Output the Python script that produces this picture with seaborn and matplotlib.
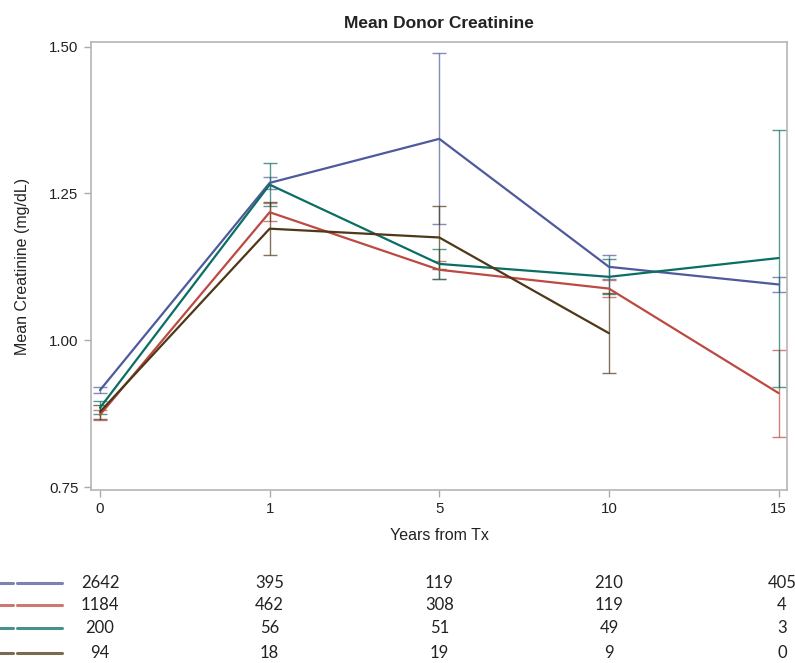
import numpy as np
import pandas as pd
import seaborn as sns
import matplotlib.pyplot as plt
from matplotlib.lines import Line2D
import matplotlib.transforms as mtransforms

# --- dados ---
anos = ['0', '1', '5', '10', '15']
grupos = ['A', 'B', 'C', 'D']
cores = ['#4F5A9C', '#BC4A42', '#0B6E62', '#4E3818']

media_a = [0.915, 1.268, 1.343, 1.125, 1.095]
media_b = [0.873, 1.218, 1.120, 1.088, 0.910]
media_c = [0.885, 1.265, 1.130, 1.108, 1.140]
media_d = [0.878, 1.190, 1.175, 1.012, np.nan]

inf_a = [0.910, 1.258, 1.198, 1.105, 1.082]
sup_a = [0.920, 1.278, 1.490, 1.145, 1.107]
inf_b = [0.864, 1.203, 1.105, 1.073, 0.836]
sup_b = [0.882, 1.233, 1.135, 1.103, 0.984]
inf_c = [0.874, 1.228, 1.105, 1.078, 0.921]
sup_c = [0.896, 1.302, 1.155, 1.138, 1.358]
inf_d = [0.866, 1.145, 1.122, 0.945, np.nan]
sup_d = [0.890, 1.236, 1.228, 1.080, np.nan]

n_a = [2642, 395, 119, 210, 405]
n_b = [1184, 462, 308, 119, 4]
n_c = [200, 56, 51, 49, 3]
n_d = [94, 18, 19, 9, 0]

medias = [media_a, media_b, media_c, media_d]
inferiores = [inf_a, inf_b, inf_c, inf_d]
superiores = [sup_a, sup_b, sup_c, sup_d]
contagens = [n_a, n_b, n_c, n_d]

linhas = []
for g, m in zip(grupos, medias):
    for i, v in enumerate(m):
        linhas.append({'pos': i, 'grupo': g, 'media': v})
df = pd.DataFrame(linhas).dropna()

sns.set_style('white')
plt.rcParams['font.family'] = ['Liberation Sans', 'DejaVu Sans']

fig = plt.figure(figsize=(7.95, 6.63), dpi=100)
ax = fig.add_axes([0.1145, 0.261, 0.8755, 0.6757])

# barras de erro primeiro (finas e mais claras)
for m, lo, hi, c in zip(medias, inferiores, superiores, cores):
    m = np.array(m)
    lo = np.array(lo)
    hi = np.array(hi)
    x = np.arange(len(anos))
    ok = ~np.isnan(m)
    ax.errorbar(x[ok], m[ok], yerr=[m[ok] - lo[ok], hi[ok] - m[ok]], fmt='none',
                ecolor=c, elinewidth=1.0, capsize=5, capthick=1.0, alpha=0.7, zorder=2)

sns.lineplot(data=df, x='pos', y='media', hue='grupo', palette=cores,
             linewidth=1.6, legend=False, ax=ax, zorder=3)

ax.set_xlim(-0.053, 4.05)
ax.set_ylim(0.745, 1.508)
ax.set_xticks(range(len(anos)))
ax.set_xticklabels(anos)
ax.set_yticks([0.75, 1.00, 1.25, 1.50])
ax.set_yticklabels(['0.75', '1.00', '1.25', '1.50'])
ax.tick_params(axis='both', direction='out', length=5, width=1, color='#aaaaaa',
               labelsize=10.8, labelcolor='#222222', pad=4, left=True, bottom=True)
for s in ax.spines.values():
    s.set_color('#b5b5b5')
    s.set_linewidth(1.2)

ax.set_xlabel('Years from Tx', fontsize=11.5, color='#222222', labelpad=8)
ax.set_ylabel('Mean Creatinine (mg/dL)', fontsize=11.5, color='#222222', labelpad=14)
ax.set_title('Mean Donor Creatinine', fontsize=12.5, fontweight='bold', color='#222222', pad=10)

# tabela de números em risco
trans = mtransforms.blended_transform_factory(ax.transData, fig.transFigure)
linhas_y = [1 - 583 / 663, 1 - 605 / 663, 1 - 628 / 663, 1 - 653 / 663]
for cont, c, yy in zip(contagens, cores, linhas_y):
    fig.add_artist(Line2D([0.0, 13 / 795], [yy, yy], color=c, lw=2.2, alpha=0.75,
                          transform=fig.transFigure))
    fig.add_artist(Line2D([17 / 795, 62 / 795], [yy, yy], color=c, lw=2.2, alpha=0.75,
                          transform=fig.transFigure))
    for i, v in enumerate(cont):
        xx = i if i < 4 else 4.02
        fig.text(xx, yy, str(v), transform=trans, ha='center', va='center',
                 fontsize=12, color='#222222', family=['Lato', 'DejaVu Sans'])

fig.savefig('out.png', dpi=100)
